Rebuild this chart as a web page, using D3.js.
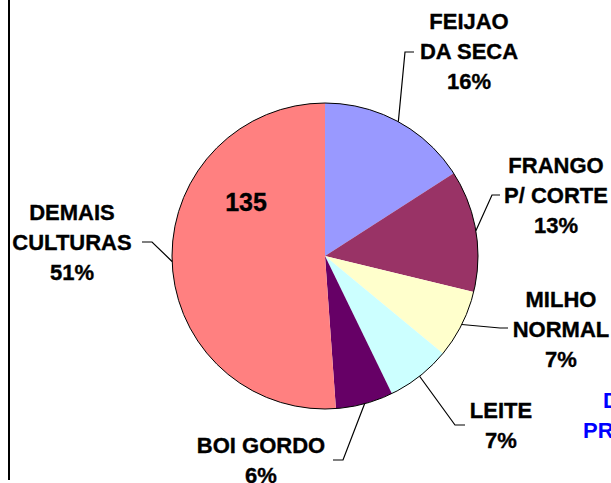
<!DOCTYPE html>
<html>
<head>
<meta charset="utf-8">
<script src="https://cdn.jsdelivr.net/npm/d3@7"></script>
<style>
  html, body { margin: 0; padding: 0; background: #fff; overflow: hidden; }
  svg { display: block; }
  text { font-family: "Liberation Sans", Arial, sans-serif; font-weight: bold; }
</style>
</head>
<body>
<svg id="chart" width="611" height="483"></svg>
<script>
// Slices, clockwise from 12 o'clock
const categories = [["FEIJAO", "DA SECA"], ["FRANGO", "P/ CORTE"], ["MILHO", "NORMAL"], ["LEITE"], ["BOI GORDO"], ["DEMAIS", "CULTURAS"]];
const values = [42, 34, 19, 18, 16, 135];
const colors = ["#9999FF", "#993366", "#FFFFCC", "#CCFFFF", "#660066", "#FF8080"];

// Label block placement: centre x, first baseline, leader elbow and end points
const labelPos = [
  { x: 469, y: 29,  elbow: [405, 52],  end: [414, 52] },
  { x: 556, y: 173, elbow: [492, 195], end: [500, 195] },
  { x: 561, y: 307, elbow: [500, 328], end: [508, 328] },
  { x: 501, y: 418, elbow: [455, 425], end: [465, 425] },
  { x: 261, y: 453, elbow: [343, 460], end: [333, 460] },
  { x: 72,  y: 220, elbow: [152, 242], end: [142, 242] }
];

const svg = d3.select("#chart");
const cx = 325, cy = 256, r = 153;
const lineH = 30;

// frame line on the left
svg.append("line")
  .attr("x1", 9).attr("x2", 9).attr("y1", 0).attr("y2", 480)
  .attr("stroke", "#000").attr("stroke-width", 2);

const total = d3.sum(values);
const pie = d3.pie().sort(null).value(d => d);
const arcs = pie(values);
const arc = d3.arc().innerRadius(0).outerRadius(r);

const g = svg.append("g").attr("transform", `translate(${cx},${cy})`);

g.selectAll("path.slice")
  .data(arcs)
  .join("path")
  .attr("class", "slice")
  .attr("d", arc)
  .attr("fill", (d, i) => colors[i]);

// outer rim
g.append("circle")
  .attr("r", r)
  .attr("fill", "none")
  .attr("stroke", "#000")
  .attr("stroke-width", 1);

// leader lines from the middle of each slice's rim
arcs.forEach((a, i) => {
  const mid = (a.startAngle + a.endAngle) / 2;
  const px = cx + r * Math.sin(mid);
  const py = cy - r * Math.cos(mid);
  const lp = labelPos[i];
  svg.append("polyline")
    .attr("points", [[px, py], lp.elbow, lp.end].map(p => p.join(",")).join(" "))
    .attr("fill", "none")
    .attr("stroke", "#000")
    .attr("stroke-width", 1.2);
});

// category labels with percentages
const fmtPct = v => Math.round(v / total * 100) + "%";
arcs.forEach((a, i) => {
  const lp = labelPos[i];
  const lines = categories[i].concat([fmtPct(values[i])]);
  const t = svg.append("text")
    .attr("text-anchor", "middle")
    .attr("font-size", 22)
    .attr("fill", "#000")
    .attr("stroke", "#000")
    .attr("stroke-width", 0.35);
  lines.forEach((s, k) => {
    t.append("tspan").attr("x", lp.x).attr("y", lp.y + k * lineH).text(s);
  });
});

// value on the largest slice
svg.append("text")
  .attr("x", 246).attr("y", 211)
  .attr("text-anchor", "middle")
  .attr("font-size", 25)
  .attr("fill", "#000")
  .attr("stroke", "#000")
  .attr("stroke-width", 0.35)
  .text(values[5]);

// title fragment at the right edge
svg.append("text").attr("x", 603).attr("y", 408).attr("font-size", 22).attr("fill", "#0000FF").text("D");
svg.append("text").attr("x", 583).attr("y", 438).attr("font-size", 22).attr("fill", "#0000FF").text("PR");
</script>
</body>
</html>
